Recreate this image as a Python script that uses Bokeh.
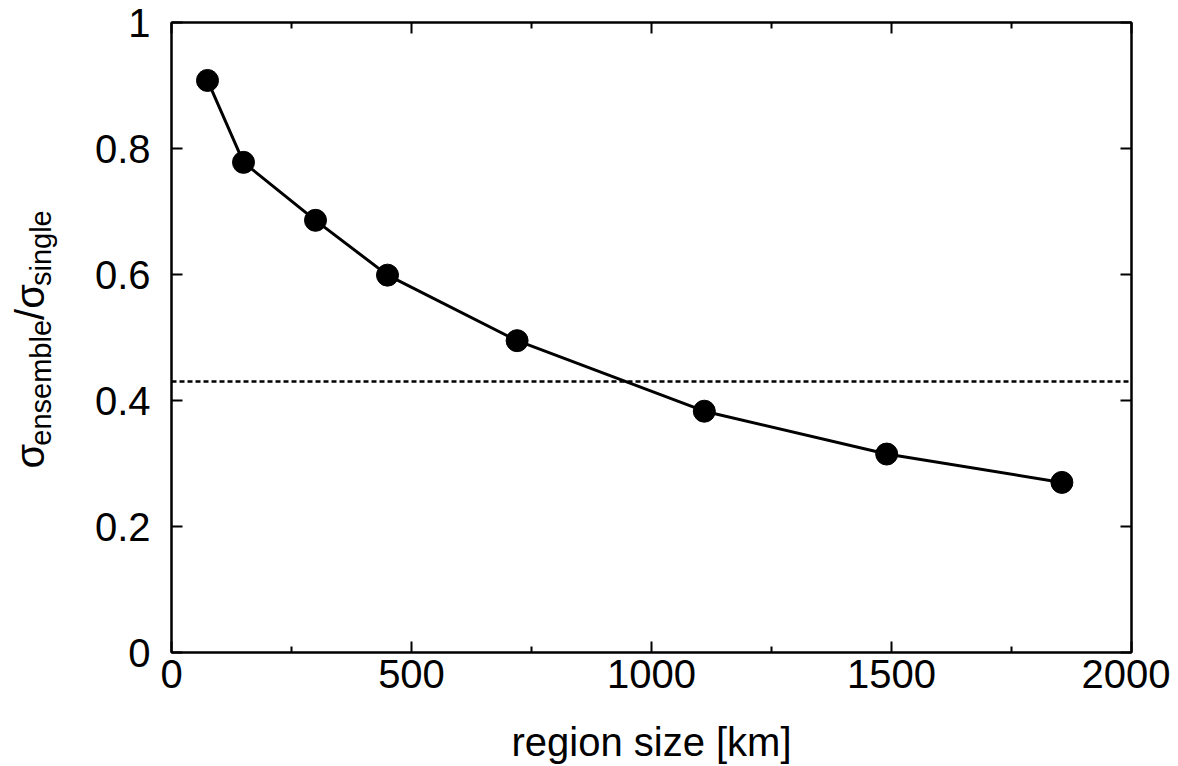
import math
from bokeh.plotting import figure
from bokeh.layouts import row
from bokeh.models import (FixedTicker, LinearAxis, Span, ColumnDataSource, Range1d)
from bokeh.core.properties import value
from bokeh.embed import file_html
from bokeh.resources import INLINE

# ---- data ----
region_size_km = [75, 150, 300, 450, 720, 1110, 1490, 1855]
sigma_ratio = [0.908, 0.778, 0.686, 0.599, 0.495, 0.383, 0.315, 0.270]
reference_level = 0.43

x_ticks = [0, 500, 1000, 1500, 2000]
x_minor = [250, 750, 1250, 1750]
y_ticks = [0, 0.2, 0.4, 0.6, 0.8, 1.0]
y_tick_labels = ["0", "0.2", "0.4", "0.6", "0.8", "1"]
x_label = "region size [km]"
y_label_parts = ["σ", "ensemble", "/", "σ", "single"]

FONT = "Liberation Sans"
TICK_FS = 40
LABEL_FS = 40

H = 766
STRIP_W = 60          # narrow panel on the left that holds the y-axis title
X0, X1, Y0, Y1 = 0, 2000, 0, 1
FRAME_L, FRAME_T, FRAME_W, FRAME_H = 171, 22, 960, 630
FRAME_B = H - FRAME_T - FRAME_H
W = 1170 - STRIP_W

p = figure(width=W, height=H, output_backend="svg", toolbar_location=None,
           x_range=Range1d(X0, X1), y_range=Range1d(Y0, Y1),
           min_border_left=FRAME_L - STRIP_W, min_border_top=FRAME_T,
           min_border_right=W - (FRAME_L - STRIP_W) - FRAME_W,
           min_border_bottom=FRAME_B,
           background_fill_color="white", border_fill_color="white")
p.grid.visible = False
p.outline_line_color = "black"
p.outline_line_width = 2

src = ColumnDataSource(dict(x=region_size_km, y=sigma_ratio))
p.line("x", "y", source=src, line_color="black", line_width=3)
p.scatter("x", "y", source=src, size=22, fill_color="black", line_color="black")

p.add_layout(Span(location=reference_level, dimension="width", line_color="black",
                  line_width=2.5, line_dash="5 3"))

def style_axis(ax, ticks, minor, labels, show):
    ax.ticker = FixedTicker(ticks=ticks, minor_ticks=minor)
    ax.axis_line_color = "black"
    ax.axis_line_width = 2
    ax.major_tick_in = 11
    ax.major_tick_out = 0
    ax.minor_tick_in = 6
    ax.minor_tick_out = 0
    ax.major_tick_line_width = 2
    ax.minor_tick_line_width = 2
    if show:
        ax.major_label_overrides = {t: l for t, l in zip(ticks, labels)}
        ax.major_label_text_font = FONT
        ax.major_label_text_font_size = f"{TICK_FS}px"
        ax.major_label_text_color = "black"
    else:
        ax.major_label_overrides = {t: "" for t in ticks}
        ax.major_label_text_font_size = "1px"
        ax.major_label_standoff = 0

xa = p.xaxis[0]
style_axis(xa, x_ticks, x_minor, [str(t) for t in x_ticks], True)
xa.major_label_standoff = 7
xa.axis_label = x_label
xa.axis_label_text_font = FONT
xa.axis_label_text_font_size = f"{LABEL_FS}px"
xa.axis_label_text_font_style = "normal"
xa.axis_label_text_color = "black"
xa.axis_label_standoff = 29

ya = p.yaxis[0]
style_axis(ya, y_ticks, [], y_tick_labels, True)
ya.major_label_standoff = 21

top = LinearAxis()
style_axis(top, x_ticks, x_minor, None, False)
p.add_layout(top, "above")
right = LinearAxis()
style_axis(right, y_ticks, [], None, False)
p.add_layout(right, "right")

# ---- y axis title panel: sigma_ensemble / sigma_single ----
# its frame uses the same top/bottom borders as the main plot, 1 data unit = 1 px
s = figure(width=STRIP_W, height=H, output_backend="svg", toolbar_location=None,
           x_range=Range1d(0, STRIP_W), y_range=Range1d(0, FRAME_H),
           min_border_left=0, min_border_right=0,
           min_border_top=FRAME_T, min_border_bottom=FRAME_B,
           x_axis_location=None, y_axis_location=None,
           outline_line_color=None, background_fill_color="white",
           border_fill_color="white")
s.grid.visible = False
MAIN_FS, SUB_FS = 40, 29
sizes = [MAIN_FS, SUB_FS, MAIN_FS, MAIN_FS, SUB_FS]
baselines = [43, 51, 43, 43, 51]          # page x of each piece's baseline
advances = [0.57, 4.335, 0.278, 0.57, 2.612]
MID = 0.35                                # (ascent - descent) / 2 in em
pos = (FRAME_T + FRAME_H) - 468           # start of the title, px above frame bottom
for txt, fs, bl, adv in zip(y_label_parts, sizes, baselines, advances):
    s.text(x=[bl - MID * fs], y=[pos], text=[txt], angle=math.pi / 2,
           text_font=value(FONT), text_font_size=value(f"{fs}px"),
           text_align="left", text_baseline="middle", text_color="black")
    pos += adv * fs

layout = row(s, p)
open("out.html", "w").write(file_html(layout, INLINE))
